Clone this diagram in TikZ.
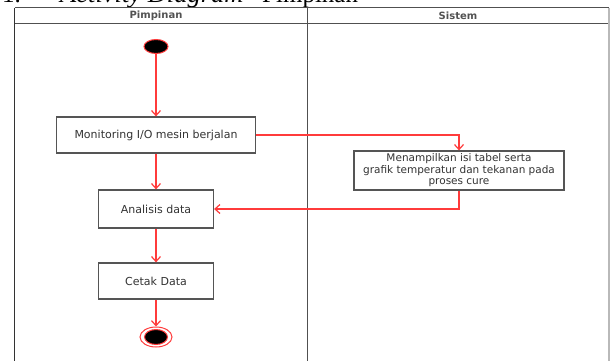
\documentclass[tikz,border=0pt]{standalone}
\usepackage{fontspec}
\setmainfont{Liberation Serif}
\setsansfont{DejaVu Sans}
\usetikzlibrary{shapes.geometric,arrows.meta}
\definecolor{alurred}{HTML}{FF3B3B}
\definecolor{boxgray}{HTML}{555555}
\definecolor{textgray}{HTML}{333333}
\definecolor{framegray}{HTML}{505050}
\tikzset{
    aksi/.style={draw=boxgray,line width=1.2pt,fill=white,text=textgray,align=center,inner sep=0pt,
        font=\sffamily\fontsize{11}{13}\selectfont},
    kepala/.style={text=textgray!85,inner sep=0pt,font=\sffamily\bfseries\fontsize{10}{12}\selectfont},
    alur/.style={draw=alurred,line width=1.2pt,-{Straight Barb[length=5pt,width=9pt]}},
    titik/.style={ellipse,draw=alurred,line width=1pt,inner sep=0pt},
}
\begin{document}
\begin{tikzpicture}[x=1pt,y=-1pt]
    \useasboundingbox (0,0) rectangle (610,361);
    \def\xk{14.5}%kiri
    \def\xt{307}%tengah
    \def\xr{609}%kanan
    % judul
    \path[every node/.style={anchor=base west,inner sep=0pt,font=\fontsize{25}{26}\selectfont}]
    (2,2.5) node (nomor) {1.}
    (60,2.5) node (judul) {\itshape\addfontfeatures{FakeStretch=1.06}Activity Diagram}
    (262,2.5) node (judulb) {Pimpinan};
    % swimlane
    \draw[line width=1pt,framegray] (\xk,8)--(\xr,8) (\xk,24)--(\xr,24) (\xt,8)--(\xt,365);
    \draw[line width=1.2pt,black!80] (\xk,365)--(\xk,8);
    \draw[line width=1.2pt,gray!55] (\xr,8)--(\xr,365);
    \path foreach \x/\t in {156/Pimpinan,458/Sistem} {(\x,16) node[kepala] (h\t) {\t}};
    % aktivitas
    \node[titik,fill=black,minimum width=24pt,minimum height=14pt] (mulai) at (156,46.5) {};
    \node[aksi,minimum width=199pt,minimum height=36pt] (monitor) at (156,135) {Monitoring I/O mesin berjalan};
    \node[aksi,minimum width=210pt,minimum height=39pt,font=\sffamily\fontsize{10.5}{11.5}\selectfont] (tampil) at (459,170.5)
        {Menampilkan isi tabel serta\\grafik temperatur dan tekanan pada\\proses cure};
    \node[aksi,minimum width=115pt,minimum height=38pt] (analisis) at (156,209) {Analisis data};
    \node[aksi,minimum width=115pt,minimum height=36pt] (cetak) at (156,281) {Cetak Data};
    \node[titik,fill=white,minimum width=32pt,minimum height=20pt] (selesai) at (156,337) {};
    \node[titik,fill=black,minimum width=23pt,minimum height=15pt] (selesaiin) at (selesai) {};
    % alur
    \foreach \a/\b in {mulai/monitor,monitor/analisis,analisis/cetak,cetak/selesai} \draw[alur] (\a)--(\b);
    \draw[alur] (monitor.east) -| (tampil.north);
    \draw[alur] (tampil.south) |- (analisis.east);
\end{tikzpicture}
\end{document}
